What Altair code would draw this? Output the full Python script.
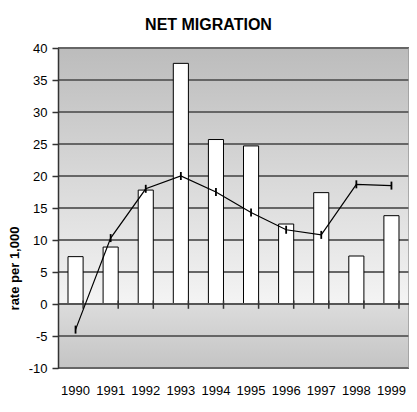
import altair as alt
import pandas as pd

years = ["1990", "1991", "1992", "1993", "1994", "1995", "1996", "1997", "1998", "1999"]
bar_values = [7.4, 8.9, 17.8, 37.6, 25.7, 24.7, 12.5, 17.4, 7.5, 13.8]
line_values = [-4.0, 10.3, 18.0, 20.0, 17.5, 14.3, 11.6, 10.8, 18.7, 18.5]
y_ticks = [-10, -5, 0, 5, 10, 15, 20, 25, 30, 35, 40]
grid_values = [-10, -5, 5, 10, 15, 20, 25, 30, 35, 40]

W, H = 351, 320
FONT = "Liberation Sans"

df = pd.DataFrame({"year": years, "bar": bar_values, "line": line_values})
grid_df = pd.DataFrame({"g": grid_values})
one = pd.DataFrame({"a": [0]})

x_scale = alt.Scale(paddingInner=0.57, paddingOuter=0.285)
y_scale = alt.Scale(domain=[-10, 40], nice=False, zero=False)

x_axis = alt.Axis(title=None, ticks=False, tickSize=0, domain=False,
                  labelAngle=0, labelFont=FONT, labelFontSize=13,
                  labelColor="#000", labelPadding=22, labelBaseline="middle",
                  labelOverlap=False, grid=False)
y_axis = alt.Axis(values=y_ticks, tickCount=11, grid=False, domainColor="#333",
                  domainWidth=1.5, tickColor="#333", tickSize=6, tickWidth=1.5,
                  labelFont=FONT, labelFontSize=13, labelColor="#000", labelPadding=5,
                  labelOverlap=False, labelFlush=False, labelExpr="datum.value",
                  title="rate per 1,000", titleFont=FONT, titleFontSize=13,
                  titleFontWeight="bold", titleColor="#000", titleX=-44, titleY=220,
                  titleAngle=-90, titleAlign="center", titleBaseline="middle", zindex=1)

upper_grad = alt.Gradient(gradient="linear", x1=0, x2=0, y1=0, y2=1,
                          stops=[alt.GradientStop(color="#bcbcbc", offset=0),
                                 alt.GradientStop(color="#f4f4f4", offset=1)])
lower_grad = alt.Gradient(gradient="linear", x1=0, x2=0, y1=0, y2=1,
                          stops=[alt.GradientStop(color="#dcdcdc", offset=0),
                                 alt.GradientStop(color="#c4c4c4", offset=1)])

def Y(field, **kw):
    return alt.Y(field, scale=y_scale, axis=y_axis, **kw)

def X(**kw):
    return alt.X("year:N", scale=x_scale, sort=years, axis=x_axis, **kw)

bg_up = alt.Chart(one).mark_rect(color=upper_grad).encode(
    x=alt.value(0), x2=alt.value(W),
    y=alt.Y(datum=40, scale=y_scale, axis=y_axis), y2=alt.datum(0))
bg_low = alt.Chart(one).mark_rect(color=lower_grad).encode(
    x=alt.value(0), x2=alt.value(W),
    y=alt.Y(datum=0, scale=y_scale, axis=y_axis), y2=alt.datum(-10))

grid = alt.Chart(grid_df).mark_rule(color="#666", strokeWidth=2).encode(
    x=alt.value(0), x2=alt.value(W), y=Y("g:Q"))

right_border = alt.Chart(one).mark_rule(color="#999", strokeWidth=1.5).encode(
    x=alt.value(W), y=alt.value(0), y2=alt.value(H))

bars = alt.Chart(df).mark_bar(fill="white", stroke="black", strokeWidth=1).encode(
    x=X(), y=Y("bar:Q"), y2=alt.datum(0))

zero = alt.Chart(one).mark_rule(color="#555", strokeWidth=2).encode(
    x=alt.value(0), x2=alt.value(W), y=alt.Y(datum=0, scale=y_scale, axis=y_axis))

zero_ticks = alt.Chart(df).mark_rule(color="#333", strokeWidth=1.5).encode(
    x=X(bandPosition=1),
    y=alt.Y(datum=-0.75, scale=y_scale, axis=y_axis), y2=alt.datum(0.55))

line = alt.Chart(df).mark_line(color="black", strokeWidth=1.2).encode(
    x=X(), y=Y("line:Q"))

markers = alt.Chart(df).mark_point(shape="M0,-1L0,1", size=64, stroke="black",
                                   strokeWidth=1.8, filled=False, opacity=1).encode(
    x=X(), y=Y("line:Q"))

chart = alt.layer(bg_up, bg_low, grid, right_border, bars, zero, zero_ticks, line, markers).properties(
    width=W, height=H,
    title=alt.TitleParams("NET MIGRATION", font=FONT, fontSize=16, fontWeight="bold",
                          color="#000", anchor="middle", dx=-25, offset=9),
    autosize=alt.AutoSizeParams(type="none"),
    padding={"left": 50, "top": 40, "right": 0, "bottom": 40},
).configure_view(stroke=None).resolve_scale(x="shared", y="shared")

chart.save("out.html", embed_options={"renderer": "svg", "actions": False})
